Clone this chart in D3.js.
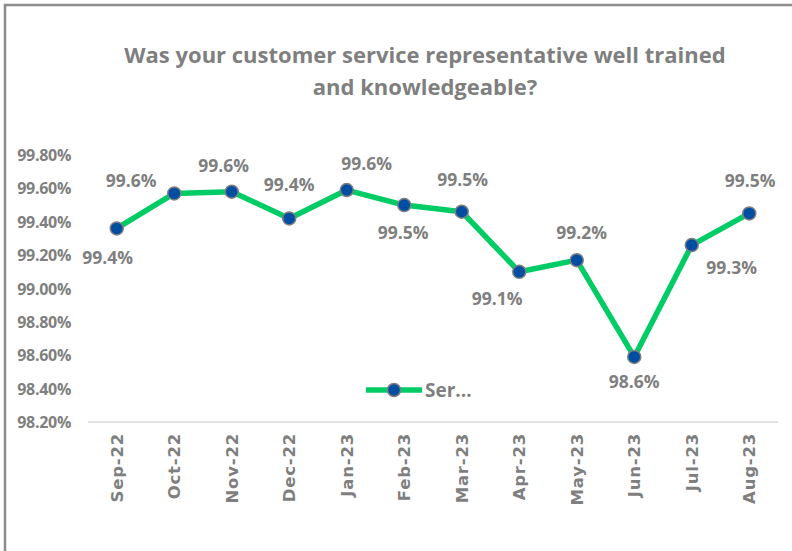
<!DOCTYPE html>
<html><head><meta charset="utf-8">
<script src="https://cdn.jsdelivr.net/npm/d3@7"></script>
<style>body{margin:0;background:#fff}svg{display:block}</style>
</head><body>
<script>
const categories = ["Sep-22","Oct-22","Nov-22","Dec-22","Jan-23","Feb-23","Mar-23","Apr-23","May-23","Jun-23","Jul-23","Aug-23"];
const values = [99.36,99.57,99.58,99.42,99.59,99.50,99.46,99.10,99.17,98.59,99.26,99.45];
const labelText = ["99.4%","99.6%","99.6%","99.4%","99.6%","99.5%","99.5%","99.1%","99.2%","98.6%","99.3%","99.5%"];
const yTicks = [98.2,98.4,98.6,98.8,99.0,99.2,99.4,99.6,99.8];
const titleLines = ["Was your customer service representative well trained","and knowledgeable?"];
const seriesName = "Ser...";

// label placement (layout only): dx, dy relative to point
const labelOffsets = [[-9,29],[-43,-13],[-8,-26],[0,-34],[20,-26],[-1,28],[1,-32],[-22,27],[5,-27],[0,25],[40,23],[1,-33]];

const W=792,H=551;
const svg=d3.select("body").append("svg").attr("width",W).attr("height",H);
const gray="#7f7f7f";
// frame
svg.append("path").attr("d",`M5,${H+5} L5,5 L${W+5},5`).attr("fill","none").attr("stroke","#8c8c8c").attr("stroke-width",2.5);

const x=d3.scaleBand().domain(categories).range([88,778]);
const y=d3.scaleLinear().domain([98.2,99.8]).range([422,155]);

// title
svg.append("g").selectAll("text").data(titleLines).join("text")
  .attr("x",425).attr("y",(d,i)=>63+i*32).attr("text-anchor","middle")
  .attr("font-family","Open Sans, sans-serif").attr("font-weight","bold").attr("font-size",22)
  .attr("fill",gray).text(d=>d);

// y axis labels
const yAxis=d3.axisLeft(y).tickValues(yTicks).tickSize(0).tickPadding(0).tickFormat(d=>d3.format(".2f")(d)+"%");
const ga=svg.append("g").attr("transform","translate(71,0)").call(yAxis);
ga.select(".domain").remove();
ga.selectAll("text").attr("font-family","Open Sans, sans-serif").attr("font-weight","bold").attr("font-size",16).attr("letter-spacing",-0.3).attr("fill",gray).attr("dy","0.35em");

// baseline
svg.append("line").attr("x1",88).attr("x2",778).attr("y1",y(98.2)).attr("y2",y(98.2)).attr("stroke","#d9d9d9").attr("stroke-width",1.5);

// x axis labels
const xAxis=d3.axisBottom(x).tickSize(0).tickPadding(0);
const gx=svg.append("g").attr("transform",`translate(0,${y(98.2)})`).call(xAxis);
gx.select(".domain").remove();
gx.selectAll("text").attr("font-family","Verdana, DejaVu Sans, sans-serif").attr("font-weight","bold").attr("font-size",16.5).attr("fill",gray)
  .attr("letter-spacing",0.8)
  .attr("text-anchor","end").attr("transform","rotate(-90)").attr("x",-11).attr("y",0).attr("dy","0.35em");

// line
const line=d3.line().x((d,i)=>x(categories[i])+x.bandwidth()/2).y(d=>y(d));
svg.append("path").datum(values).attr("d",line).attr("fill","none").attr("stroke","#00cc66").attr("stroke-width",5.5).attr("stroke-linejoin","round");

svg.append("g").selectAll("circle").data(values).join("circle")
  .attr("cx",(d,i)=>x(categories[i])+x.bandwidth()/2).attr("cy",d=>y(d)).attr("r",6.5)
  .attr("fill","#004ea2").attr("stroke","#7f7f7f").attr("stroke-width",1.5);

svg.append("g").selectAll("text").data(values).join("text")
  .attr("x",(d,i)=>x(categories[i])+x.bandwidth()/2+labelOffsets[i][0])
  .attr("y",(d,i)=>y(d)+labelOffsets[i][1]).attr("dy","0.35em").attr("text-anchor","middle")
  .attr("font-family","Open Sans, sans-serif").attr("font-weight","bold").attr("font-size",17.5).attr("fill",gray)
  .text((d,i)=>labelText[i]);

// legend
const lg=svg.append("g");
lg.append("line").attr("x1",366).attr("x2",422).attr("y1",390).attr("y2",390).attr("stroke","#00cc66").attr("stroke-width",5.5);
lg.append("circle").attr("cx",394).attr("cy",390).attr("r",6.5).attr("fill","#004ea2").attr("stroke","#7f7f7f").attr("stroke-width",1.5);
lg.append("text").attr("x",425).attr("y",390).attr("dy","0.35em").attr("font-family","Open Sans, sans-serif").attr("font-weight","bold").attr("font-size",19).attr("fill",gray).text(seriesName);
</script>
</body></html>
